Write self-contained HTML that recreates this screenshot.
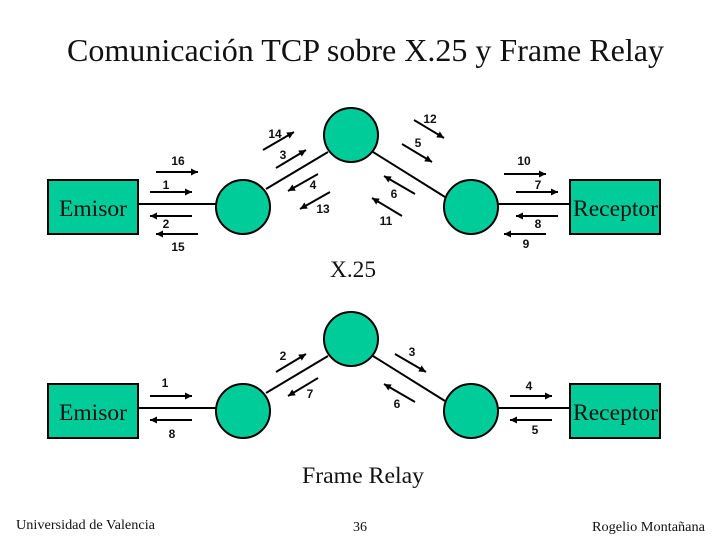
<!DOCTYPE html>
<html>
<head>
<meta charset="utf-8">
<style>
html,body{margin:0;padding:0;background:#fff}
svg{display:block}
.s{font-family:"Liberation Serif",serif;fill:#111}
.n{font-family:"Liberation Sans",sans-serif;font-size:12px;font-weight:bold;fill:#111;text-anchor:middle}
.a{stroke:#000;stroke-width:1.9;fill:none;marker-end:url(#h)}
.l{stroke:#000;stroke-width:2;fill:none}
.g{fill:#00cc99;stroke:#000;stroke-width:2}
</style>
</head>
<body>
<svg width="720" height="540" viewBox="0 0 720 540" xmlns="http://www.w3.org/2000/svg">
<defs>
<marker id="h" markerUnits="userSpaceOnUse" markerWidth="9" markerHeight="10" refX="7" refY="5" orient="auto">
<path d="M0,1.5 L7,5 L0,8.5 Z" fill="#000"/>
</marker>
</defs>
<rect width="720" height="540" fill="#fff"/>
<text class="s" x="67" y="61" font-size="32" textLength="597" lengthAdjust="spacingAndGlyphs">Comunicación TCP sobre X.25 y Frame Relay</text>

<!-- X.25 -->
<path class="l" d="M138,204H216M498,204H570M266,189L328,152M373,152L445,197"/>
<rect class="g" x="48" y="180" width="90" height="54"/>
<rect class="g" x="570" y="180" width="90" height="54"/>
<circle class="g" cx="243" cy="207" r="27"/>
<circle class="g" cx="351" cy="135" r="27"/>
<circle class="g" cx="471" cy="207" r="27"/>
<text class="s" x="59" y="216" font-size="23" textLength="68" lengthAdjust="spacingAndGlyphs">Emisor</text>
<text class="s" x="573" y="216" font-size="23" textLength="85" lengthAdjust="spacingAndGlyphs">Receptor</text>

<line class="a" x1="156" y1="172" x2="198" y2="172"/>
<line class="a" x1="150" y1="192" x2="192" y2="192"/>
<line class="a" x1="192" y1="216" x2="150" y2="216"/>
<line class="a" x1="198" y1="234" x2="156" y2="234"/>
<line class="a" x1="263" y1="150" x2="294" y2="132"/>
<line class="a" x1="276" y1="168" x2="306" y2="150"/>
<line class="a" x1="318" y1="174" x2="288" y2="191"/>
<line class="a" x1="330" y1="192" x2="300" y2="209"/>
<line class="a" x1="414" y1="120" x2="444" y2="138"/>
<line class="a" x1="402" y1="144" x2="432" y2="162"/>
<line class="a" x1="415" y1="194" x2="384" y2="176"/>
<line class="a" x1="402" y1="216" x2="372" y2="198"/>
<line class="a" x1="504" y1="174" x2="546" y2="174"/>
<line class="a" x1="516" y1="192" x2="558" y2="192"/>
<line class="a" x1="558" y1="216" x2="516" y2="216"/>
<line class="a" x1="546" y1="234" x2="504" y2="234"/>

<text class="n" x="178" y="165">16</text>
<text class="n" x="166" y="189">1</text>
<text class="n" x="166" y="228">2</text>
<text class="n" x="178" y="251">15</text>
<text class="n" x="275" y="138">14</text>
<text class="n" x="283" y="159">3</text>
<text class="n" x="313" y="189">4</text>
<text class="n" x="323" y="213">13</text>
<text class="n" x="430" y="123">12</text>
<text class="n" x="418" y="147">5</text>
<text class="n" x="394" y="198">6</text>
<text class="n" x="386" y="225">11</text>
<text class="n" x="524" y="165">10</text>
<text class="n" x="538" y="189">7</text>
<text class="n" x="538" y="228">8</text>
<text class="n" x="526" y="248">9</text>

<text class="s" x="330" y="277" font-size="23" textLength="46" lengthAdjust="spacingAndGlyphs">X.25</text>

<!-- Frame Relay -->
<path class="l" d="M138,408H216M498,408H570M266,393L328,356M373,356L445,401"/>
<rect class="g" x="48" y="384" width="90" height="54"/>
<rect class="g" x="570" y="384" width="90" height="54"/>
<circle class="g" cx="243" cy="411" r="27"/>
<circle class="g" cx="351" cy="339" r="27"/>
<circle class="g" cx="471" cy="411" r="27"/>
<text class="s" x="59" y="420" font-size="23" textLength="68" lengthAdjust="spacingAndGlyphs">Emisor</text>
<text class="s" x="573" y="420" font-size="23" textLength="85" lengthAdjust="spacingAndGlyphs">Receptor</text>

<line class="a" x1="150" y1="396" x2="192" y2="396"/>
<line class="a" x1="192" y1="420" x2="150" y2="420"/>
<line class="a" x1="276" y1="372" x2="306" y2="354"/>
<line class="a" x1="318" y1="378" x2="288" y2="396"/>
<line class="a" x1="395" y1="354" x2="426" y2="372"/>
<line class="a" x1="415" y1="402" x2="384" y2="384"/>
<line class="a" x1="510" y1="396" x2="552" y2="396"/>
<line class="a" x1="552" y1="420" x2="510" y2="420"/>

<text class="n" x="165" y="387">1</text>
<text class="n" x="172" y="438">8</text>
<text class="n" x="283" y="360">2</text>
<text class="n" x="310" y="398">7</text>
<text class="n" x="412" y="356">3</text>
<text class="n" x="397" y="408">6</text>
<text class="n" x="529" y="390">4</text>
<text class="n" x="535" y="434">5</text>

<text class="s" x="302" y="483" font-size="23" textLength="122" lengthAdjust="spacingAndGlyphs">Frame Relay</text>

<text class="s" x="16" y="529" font-size="14" textLength="139" lengthAdjust="spacingAndGlyphs">Universidad de Valencia</text>
<text class="s" x="353" y="531" font-size="14" textLength="14" lengthAdjust="spacingAndGlyphs">36</text>
<text class="s" x="592" y="531" font-size="14" textLength="113" lengthAdjust="spacingAndGlyphs">Rogelio Montañana</text>
</svg>
</body>
</html>
